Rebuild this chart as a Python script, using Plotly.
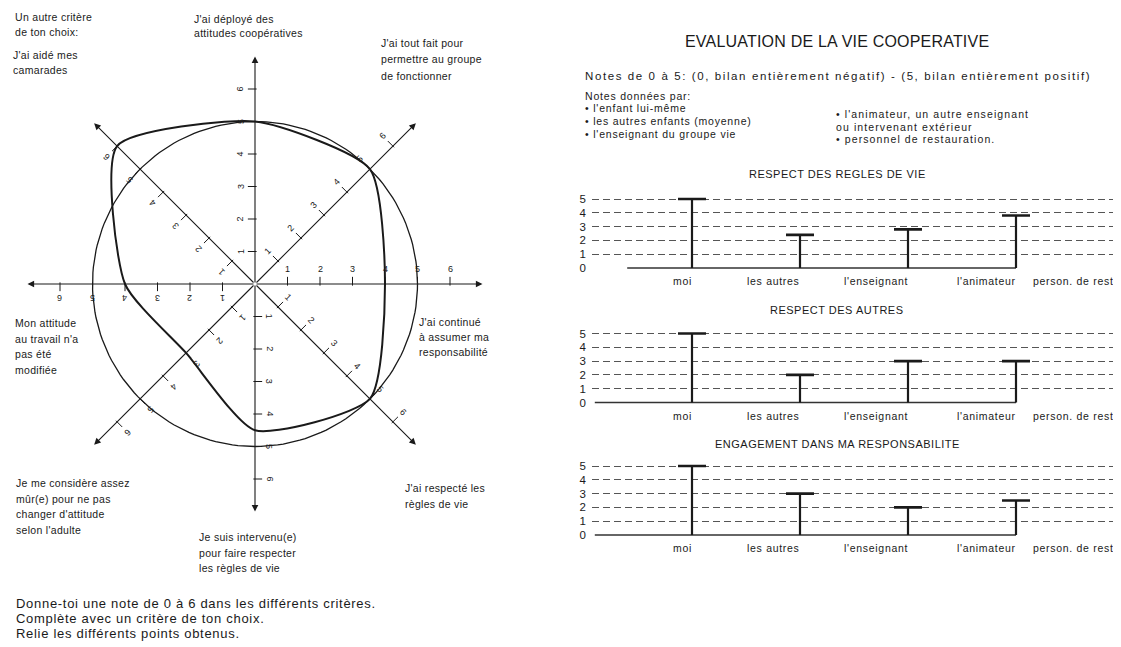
### Loading Package ###

import numpy as np
import plotly.graph_objs as go

### Data ###

# Left diagram: one note (0-6) per criterion, in angle order (0 = right, counter-clockwise)
criteres = [["J'ai continué", "à assumer ma", "responsabilité"],
            ["J'ai tout fait pour", "permettre au groupe", "de fonctionner"],
            ["J'ai déployé des", "attitudes coopératives"],
            ["J'ai aidé mes", "camarades"],
            ["Mon attitude", "au travail n'a", "pas été", "modifiée"],
            ["Je me considère assez", "mûr(e) pour ne pas", "changer d'attitude", "selon l'adulte"],
            ["Je suis intervenu(e)", "pour faire respecter", "les règles de vie"],
            ["J'ai respecté les", "règles de vie"]]
angles = [0, 45, 90, 135, 180, 225, 270, 315]
notes = [4, 5, 5, 6, 4, 3, 4.5, 5]
graduations = [1, 2, 3, 4, 5, 6]
cercle_note = 5
axe_max = 7

# Right charts
categories = ["moi", "les autres", "l'enseignant", "l'animateur", "person. de rest."]
regles_de_vie = [5, 2.4, 2.8, 3.8, 0]
respect_autres = [5, 2, 3, 3, 0]
engagement = [5, 3, 2, 2.5, 0]
echelle = [0, 1, 2, 3, 4, 5]

titres = ["RESPECT DES REGLES DE VIE", "RESPECT DES AUTRES", "ENGAGEMENT DANS MA RESPONSABILITE"]

### Layout helpers ###

W, H = 1121, 647
OFF = 8                      # page margin of the browser
FW, FH = W - OFF, H - OFF
INK = "#1a1a1a"
FONT = "Liberation Sans"


def px(x):
    return (x - OFF) / FW


def py(y):
    return 1 - (y - OFF) / FH


def spaced(text, ls):
    return f'<span style="letter-spacing:{ls}px">{text}</span>'


annotations = []


def add_lines(lines, x, y0, spacing, size, ls, anchor="left"):
    # one annotation per line, to control the line spacing
    for j, line in enumerate(lines):
        annotations.append(dict(
            x=px(x), y=py(y0 + j * spacing), xref="paper", yref="paper",
            text=spaced(line, ls), showarrow=False, xanchor=anchor, yanchor="middle",
            font=dict(family=FONT, size=size, color=INK)))


figure = go.Figure()

### Left diagram ###

# center of the diagram in pixels and one unit in pixels
cx, cy, unit = 255, 284, 32.5
left_right = 560.5
x_range = [(OFF - cx) / unit, (left_right - cx) / unit]
y_range = [(cy - H) / unit, (cy - OFF) / unit]

# Axes with arrows
for a in angles:
    t = np.radians(a)
    annotations.append(dict(
        x=axe_max * np.cos(t), y=axe_max * np.sin(t), ax=0, ay=0,
        xref="x", yref="y", axref="x", ayref="y", text="",
        showarrow=True, arrowhead=2, arrowsize=1.2, arrowwidth=1.1, arrowcolor=INK))

# Graduations (ticks + rotated labels on the left side of each axis)
tick_x, tick_y = [], []
for a in angles:
    t = np.radians(a)
    d = np.array([np.cos(t), np.sin(t)])
    n = np.array([np.cos(t + np.pi / 2), np.sin(t + np.pi / 2)])
    for g in graduations:
        p0 = g * d - 0.05 * n
        p1 = g * d + 0.22 * n
        tick_x += [p0[0], p1[0], None]
        tick_y += [p0[1], p1[1], None]
        lab = g * d + 0.45 * n
        annotations.append(dict(
            x=lab[0], y=lab[1], xref="x", yref="y", text=str(g), showarrow=False,
            textangle=-a if a <= 180 else 360 - a,
            font=dict(family=FONT, size=9, color=INK)))

figure.add_trace(go.Scatter(x=tick_x, y=tick_y, mode="lines",
                            line=dict(color=INK, width=1), hoverinfo="skip",
                            xaxis="x", yaxis="y"))

# Circle at note 5
theta = np.linspace(0, 2 * np.pi, 181)
figure.add_trace(go.Scatter(x=cercle_note * np.cos(theta), y=cercle_note * np.sin(theta),
                            mode="lines", line=dict(color=INK, width=1.3),
                            hoverinfo="skip", xaxis="x", yaxis="y"))

# Polygon joining the notes (start at the upper-left corner)
order = [3, 4, 5, 6, 7, 0, 1, 2, 3]
poly_x = [notes[i] * np.cos(np.radians(angles[i])) for i in order]
poly_y = [notes[i] * np.sin(np.radians(angles[i])) for i in order]
figure.add_trace(go.Scatter(x=poly_x, y=poly_y, mode="lines",
                            line=dict(color=INK, width=2, shape="spline", smoothing=0.6),
                            text=[" ".join(criteres[i]) for i in order], hoverinfo="text",
                            xaxis="x", yaxis="y"))

# Criterion labels: (x of the block, y of the first line, line spacing)
label_pos = [(417, 322, 15), (379, 43, 16.5), (192, 19, 14), (11, 55, 15),
             (13, 323, 15.7), (14, 483, 15.7), (197, 537, 15.5), (403, 488, 16)]
for lines, (lx, ly, sp) in zip(criteres, label_pos):
    add_lines(lines, lx, ly, sp, 10.5, 0.3)

add_lines(["Un autre critère", "de ton choix:"], 13, 17, 15, 10.5, 0.3)

add_lines(["Donne-toi une note de 0 à 6 dans les différents critères.",
           "Complète avec un critère de ton choix.",
           "Relie les différents points obtenus."], 14, 603, 15, 13, 0.7)

### Right side text ###

add_lines(["EVALUATION DE LA VIE COOPERATIVE"], 837, 42, 0, 16, 0.2, anchor="center")
add_lines(["Notes de 0 à 5: (0, bilan entièrement négatif) - (5, bilan entièrement positif)"],
          583, 76, 0, 11.5, 1.6)
add_lines(["Notes données par:"], 583, 96, 0, 10.5, 0.8)
add_lines(["• l'enfant lui-même", "• les autres enfants (moyenne)",
           "• l'enseignant du groupe vie"], 583, 108, 12.8, 10.5, 0.8)
add_lines(["• l'animateur, un autre enseignant", "ou intervenant extérieur",
           "• personnel de restauration."], 834, 114, 12.5, 10.5, 1.1)

### Right charts ###

series = [regles_de_vie, respect_autres, engagement]
zero_px = [268, 402.5, 535]         # pixel of note 0 in each chart
title_px = [174, 310, 444]
base_start = [-0.6, -0.9, -0.9]
step = 13.8                         # pixels per note
plot_left, plot_right = 592, W
first_px, cat_step = 692, 108       # pixel of first category, spacing

layout_axes = {}
for k, (values, titre) in enumerate(zip(series, titres)):
    xa, ya = f"x{k + 2}", f"y{k + 2}"
    lo, hi = -0.45, 5.35
    top = zero_px[k] - hi * step
    bottom = zero_px[k] - lo * step

    idx = list(range(len(categories)))
    stem_x, stem_y = [], []
    cap_x, cap_y = [], []
    for i, v in zip(idx, values):
        if v > 0:
            stem_x += [i, i, None]
            stem_y += [0, v, None]
            cap_x.append(i)
            cap_y.append(v)

    last = max(i for i, v in zip(idx, values) if v > 0)
    figure.add_trace(go.Scatter(x=[base_start[k], last], y=[0, 0], mode="lines",
                                line=dict(color="#333333", width=1.6), hoverinfo="skip",
                                xaxis=xa, yaxis=ya))
    figure.add_trace(go.Scatter(x=stem_x, y=stem_y, mode="lines",
                                line=dict(color=INK, width=2.2), hoverinfo="skip",
                                xaxis=xa, yaxis=ya))
    figure.add_trace(go.Scatter(x=cap_x, y=cap_y, mode="markers",
                                marker=dict(symbol="line-ew-open", size=20, color=INK,
                                            line=dict(color=INK, width=2.6)),
                                text=[categories[i] for i in cap_x], hoverinfo="text+y",
                                xaxis=xa, yaxis=ya))

    # category labels, right-aligned on their stem
    for i, c in zip(idx, categories):
        right = min(first_px + i * cat_step + 2, W - 2)
        annotations.append(dict(x=px(right), y=py(zero_px[k] + 13), xref="paper", yref="paper",
                                text=spaced(c, 0.7), showarrow=False,
                                xanchor="right", yanchor="middle",
                                font=dict(family=FONT, size=10.5, color=INK)))

    add_lines([titre], 837, title_px[k], 0, 11, 0.5, anchor="center")

    x_lo = (plot_left - first_px) / cat_step
    x_hi = (plot_right - first_px) / cat_step
    layout_axes["xaxis" + str(k + 2)] = dict(
        domain=[px(plot_left), px(plot_right)], range=[x_lo, x_hi], anchor=ya,
        visible=False)
    layout_axes["yaxis" + str(k + 2)] = dict(
        domain=[py(bottom), py(top)], range=[lo, hi], anchor=xa,
        tickvals=echelle, ticks="", showgrid=False, zeroline=False, showline=False,
        ticklabelstandoff=5, tickfont=dict(family=FONT, size=11.5, color=INK),
        minor=dict(tickvals=echelle[1:], showgrid=True, griddash="7px,4px",
                   gridcolor="#555555", gridwidth=1.3))

### Figure layout ###

figure.update_layout(
    width=FW, height=FH, margin=dict(l=0, r=0, t=0, b=0),
    paper_bgcolor="white", plot_bgcolor="white", showlegend=False,
    xaxis=dict(domain=[0, px(left_right)], range=x_range, visible=False),
    yaxis=dict(domain=[0, 1], range=y_range, visible=False),
    annotations=annotations,
    **layout_axes)

figure.write_html("out.html")
